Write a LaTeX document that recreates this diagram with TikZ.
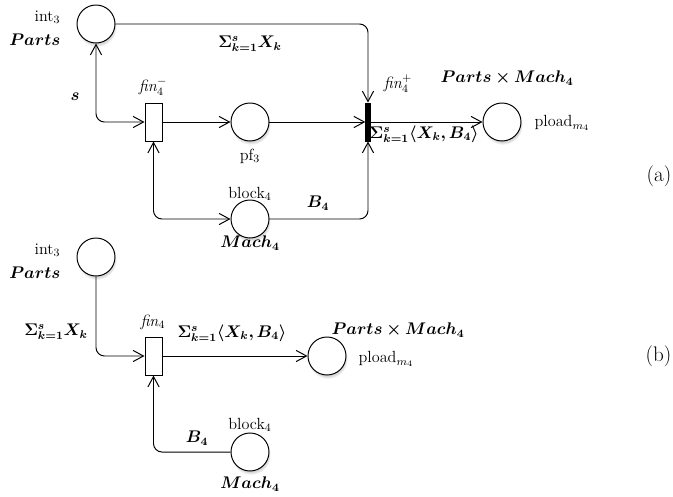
\documentclass[tikz,border=0pt]{standalone}
\usepackage{amsmath,bm}
\usetikzlibrary{arrows.meta,shadows}
\tikzset{
  place/.style={circle,draw,fill=white,line width=0.7pt,minimum size=0.95cm,inner sep=0pt,
    circular drop shadow={shadow xshift=0.2mm,shadow yshift=-0.7mm,shadow scale=1.05,opacity=0.3}},
  trans/.style={rectangle,draw,fill=white,line width=0.7pt,minimum width=0.425cm,minimum height=0.95cm,inner sep=0pt},
  bartrans/.style={rectangle,draw,fill=black,line width=0.7pt,minimum width=0.11cm,minimum height=0.95cm,inner sep=0pt},
  arc/.style={line width=0.7pt,->,rounded corners=6pt},
  lbl/.style={inner sep=1pt},
  tag/.style={inner sep=1pt,font=\fontsize{15}{17}\selectfont},
  >={Straight Barb[length=2.6mm,width=2.8mm]}
}
\begin{document}
\begin{tikzpicture}[x=0.025cm,y=-0.025cm,font=\fontsize{11.5}{13}\selectfont]
	%%%%% START %%%%%
	\useasboundingbox (0,0) rectangle (673,496);

	% (a)
	\node[place] (int3a) at (96, 24) {};
	\node[trans] (finma) at (153.5, 122) {};
	\node[place] (pf3) at (250, 122) {};
	\node[place] (block4a) at (250, 219) {};
	\node[bartrans] (finpa) at (368, 122) {};
	\node[place] (ploada) at (502, 122) {};

	\draw[arc] (int3a) -| (finpa.north);
	\draw[arc,<->] (int3a.south) |- (finma.west);
	\draw[arc] (finma) -- (pf3);
	\draw[arc] (pf3) -- (finpa);
	\draw[arc,<->] (finma.south) |- (block4a.west);
	\draw[arc] (block4a) -| (finpa.south);
	\draw[arc] (finpa) -- (ploada);

	\node[lbl,anchor=east] (int3al) at (62, 17) {int$_3$};
	\node[lbl,anchor=east] (partsal) at (62, 40) {$\bm{Parts}$};
	\node[lbl] (sumxa) at (250, 44) {$\bm{\Sigma_{k=1}^{s} X_k}$};
	\node[lbl] (sa) at (75, 97) {$\bm{s}$};
	\node[lbl] (finmal) at (153, 87) {\textit{fin}$_4^-$};
	\node[lbl] (pf3l) at (250, 156) {pf$_3$};
	\node[lbl] (block4al) at (250, 194) {block$_4$};
	\node[lbl] (mach4al) at (250, 243) {$\bm{Mach_4}$};
	\node[lbl] (b4a) at (318, 203) {$\bm{B_4}$};
	\node[lbl] (finpal) at (398, 84) {\textit{fin}$_4^+$};
	\node[lbl] (pmach4a) at (507, 78) {$\bm{Parts \times Mach_4}$};
	\node[lbl,anchor=west] (sumxba) at (368, 134) {$\bm{\Sigma_{k=1}^{s}\langle X_k, B_4\rangle}$};
	\node[lbl,anchor=west] (ploadal) at (533, 123) {pload$_{m_4}$};
	\node[tag,anchor=east] (taga) at (673, 176) {(a)};

	% (b)
	\node[place] (int3b) at (96, 257) {};
	\node[trans] (finb) at (153.5, 356) {};
	\node[place] (ploadb) at (327, 356) {};
	\node[place] (block4b) at (250, 452) {};

	\draw[arc] (int3b) |- (finb);
	\draw[arc] (finb) -- (ploadb);
	\draw[arc] (block4b) -| (finb);

	\node[lbl,anchor=east] (int3bl) at (62, 250) {int$_3$};
	\node[lbl,anchor=east] (partsbl) at (62, 273) {$\bm{Parts}$};
	\node[lbl] (sumxb) at (56, 332) {$\bm{\Sigma_{k=1}^{s} X_k}$};
	\node[lbl] (finbl) at (153, 322) {\textit{fin}$_4$};
	\node[lbl] (sumxbb) at (232, 333) {$\bm{\Sigma_{k=1}^{s}\langle X_k, B_4\rangle}$};
	\node[lbl] (pmach4b) at (398, 330) {$\bm{Parts \times Mach_4}$};
	\node[lbl,anchor=west] (ploadbl) at (357, 359) {pload$_{m_4}$};
	\node[tag,anchor=east] (tagb) at (673, 356) {(b)};
	\node[lbl] (block4bl) at (250, 425) {block$_4$};
	\node[lbl] (mach4bl) at (250, 484) {$\bm{Mach_4}$};
	\node[lbl] (b4b) at (197, 438) {$\bm{B_4}$};
	%%%%% END %%%%%
\end{tikzpicture}
\end{document}
